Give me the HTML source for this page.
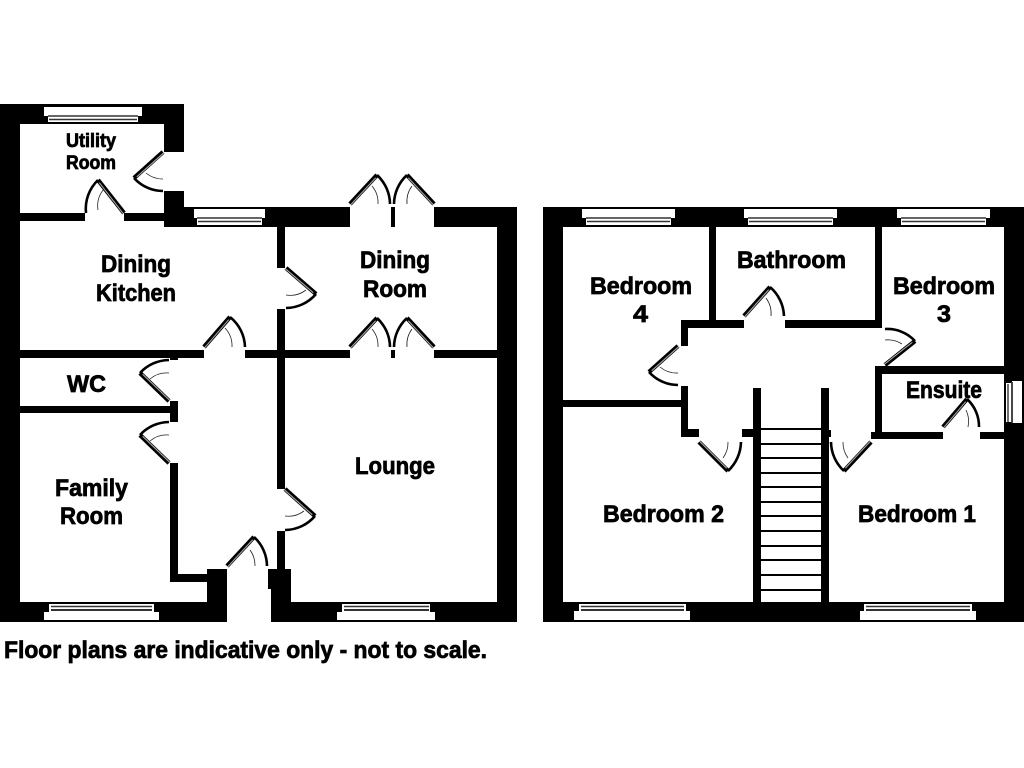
<!DOCTYPE html>
<html>
<head>
<meta charset="utf-8">
<style>
html,body{margin:0;padding:0;background:#fff;width:1024px;height:768px;overflow:hidden}
svg{display:block}
text{font-family:"Liberation Sans",sans-serif;font-weight:bold;fill:#000;stroke:#000;stroke-width:.75}
.a{fill:none;stroke:#000;stroke-width:2.6}
.l{stroke:#000;stroke-width:4.4}
.g{stroke:#a8a8a8;stroke-width:1.1}
.i{fill:none;stroke:#222;stroke-width:.8}
.wl{stroke:#333;stroke-width:1.4}
</style>
</head>
<body>
<svg width="1024" height="768" viewBox="0 0 1024 768" xmlns="http://www.w3.org/2000/svg">
<rect width="1024" height="768" fill="#fff"/>

<!-- Ground floor walls -->
<g fill="#000">
<rect x="0" y="104" width="20" height="518"/>
<rect x="0" y="104" width="184" height="20"/>
<rect x="164" y="104" width="20" height="48"/>
<rect x="164" y="191" width="20" height="36"/>
<rect x="164" y="207" width="186" height="20"/>
<rect x="434" y="207" width="83" height="20"/>
<rect x="497" y="207" width="20" height="415"/>
<rect x="0" y="602" width="227" height="20"/>
<rect x="271" y="602" width="246" height="20"/>
<rect x="20" y="213" width="65" height="8"/>
<rect x="124" y="213" width="40" height="8"/>
<rect x="277" y="227" width="8" height="41"/>
<rect x="277" y="309" width="8" height="180"/>
<rect x="277" y="531" width="8" height="40"/>
<rect x="20" y="350" width="184" height="8"/>
<rect x="245" y="350" width="105" height="8"/>
<rect x="434" y="350" width="63" height="8"/>
<rect x="391" y="207" width="4" height="20"/>
<rect x="391" y="350" width="4" height="8"/>
<rect x="20" y="406" width="150" height="7"/>
<rect x="170" y="401" width="8" height="21"/>
<rect x="170" y="358" width="8" height="2"/>
<rect x="170" y="463" width="8" height="119"/>
<rect x="170" y="574" width="40" height="8"/>
<rect x="207" y="569" width="20" height="53"/>
<rect x="268" y="569" width="23" height="20"/>
<rect x="271" y="569" width="20" height="53"/>

<!-- Upper floor walls -->
<rect x="543" y="207" width="481" height="20"/>
<rect x="543" y="207" width="20" height="415"/>
<rect x="1004" y="207" width="20" height="415"/>
<rect x="543" y="602" width="481" height="20"/>
<rect x="709" y="227" width="7" height="100"/>
<rect x="875" y="227" width="7" height="101"/>
<rect x="681" y="320" width="63" height="8"/>
<rect x="785" y="320" width="97" height="8"/>
<rect x="681" y="320" width="7" height="26"/>
<rect x="681" y="386" width="7" height="51"/>
<rect x="563" y="400" width="118" height="7"/>
<rect x="681" y="429" width="18" height="8"/>
<rect x="742" y="429" width="12" height="8"/>
<rect x="753" y="388" width="8" height="214"/>
<rect x="821" y="388" width="8" height="214"/>
<rect x="829" y="430" width="2" height="7"/>
<rect x="875" y="366" width="129" height="8"/>
<rect x="875" y="366" width="7" height="73"/>
<rect x="871" y="432" width="72" height="7"/>
<rect x="980" y="432" width="24" height="7"/>
<!-- Treads -->
<rect x="761" y="428" width="60" height="2"/>
<rect x="761" y="443" width="60" height="2"/>
<rect x="761" y="457" width="60" height="2"/>
<rect x="761" y="472" width="60" height="2"/>
<rect x="761" y="486" width="60" height="2"/>
<rect x="761" y="501" width="60" height="2"/>
<rect x="761" y="515" width="60" height="2"/>
<rect x="761" y="530" width="60" height="2"/>
<rect x="761" y="545" width="60" height="2"/>
<rect x="761" y="559" width="60" height="2"/>
<rect x="761" y="574" width="60" height="2"/>
<rect x="761" y="589" width="60" height="2"/>
</g>

<!-- Windows (top-edge type) -->
<g fill="#fff">
<path d="M44 107H142V116H138V122H48V116H44Z"/>
<path d="M194 209H265V218H262V225H197V218H194Z"/>
<path d="M582 209H675V218H671V225H586V218H582Z"/>
<path d="M744 209H837V218H833V225H748V218H744Z"/>
<path d="M897 209H990V218H986V225H901V218H897Z"/>
<!-- bottom-edge type -->
<path d="M49 604H154V612H159V620H44V612H49Z"/>
<path d="M342 604H430V612H435V620H337V612H342Z"/>
<path d="M579 604H686V611H690V620H574V611H579Z"/>
<path d="M864 604H972V611H976V620H860V611H864Z"/>
<!-- side window -->
<path d="M1006 383H1012V381H1022V423H1012V422H1006Z"/>
</g>
<g class="wl">
<line x1="48" y1="116" x2="138" y2="116"/><line x1="49" y1="119.500" x2="137" y2="119.500"/>
<line x1="197" y1="218" x2="262" y2="218"/><line x1="198" y1="221.500" x2="261" y2="221.500"/>
<line x1="586" y1="218" x2="671" y2="218"/><line x1="587" y1="221.500" x2="670" y2="221.500"/>
<line x1="748" y1="218" x2="833" y2="218"/><line x1="749" y1="221.500" x2="832" y2="221.500"/>
<line x1="901" y1="218" x2="986" y2="218"/><line x1="902" y1="221.500" x2="985" y2="221.500"/>
<line x1="51" y1="606.500" x2="152" y2="606.500"/><line x1="51" y1="610" x2="152" y2="610" stroke-width="2"/>
<line x1="344" y1="606.500" x2="429" y2="606.500"/><line x1="344" y1="610" x2="429" y2="610" stroke-width="2"/>
<line x1="581" y1="606.500" x2="684" y2="606.500"/><line x1="581" y1="610" x2="684" y2="610" stroke-width="2"/>
<line x1="866" y1="606.500" x2="970" y2="606.500"/><line x1="866" y1="610" x2="970" y2="610" stroke-width="2"/>
<line x1="1008" y1="384" x2="1008" y2="422"/><line x1="1012" y1="382" x2="1012" y2="423" stroke-width="1.800"/>
</g>

<!-- Doors: ground floor -->
<g>
<path class="a" d="M134 178A39 39 0 0 0 163 191"/><line class="l" x1="163" y1="152" x2="134" y2="178"/><line class="g" x1="163" y1="152" x2="136" y2="176" transform="translate(.8,.8)"/><path class="i" d="M146 173A26 26 0 0 0 163 179"/>
<path class="a" d="M98 180A40 40 0 0 0 86 213"/><line class="l" x1="124" y1="213" x2="98" y2="180"/><line class="g" x1="124" y1="213" x2="100" y2="182" transform="translate(-.7,.7)"/><path class="i" d="M104 189A26 26 0 0 0 98 210"/>
<path class="a" d="M230 317A40 40 0 0 1 245 347"/><line class="l" x1="204" y1="347" x2="230" y2="317"/><line class="g" x1="204" y1="347" x2="228" y2="319" transform="translate(.7,.7)"/><path class="i" d="M225 328A26 26 0 0 1 232 347"/>
<path class="a" d="M316 294A40 40 0 0 1 286 308"/><line class="l" x1="286" y1="268" x2="316" y2="294"/><line class="g" x1="286" y1="268" x2="314" y2="292" transform="translate(-.7,.7)"/><path class="i" d="M306 290A26 26 0 0 1 286 295"/>
<path class="a" d="M377 175A40 40 0 0 1 390 204"/><line class="l" x1="350" y1="204" x2="377" y2="175"/><line class="g" x1="350" y1="204" x2="375" y2="177" transform="translate(.7,.7)"/><path class="i" d="M372 186A26 26 0 0 1 378 204"/>
<path class="a" d="M407 175A40 40 0 0 0 394 204"/><line class="l" x1="434" y1="204" x2="407" y2="175"/><line class="g" x1="434" y1="204" x2="409" y2="177" transform="translate(-.7,.7)"/><path class="i" d="M412 186A26 26 0 0 0 407 204"/>
<path class="a" d="M377 318A40 40 0 0 1 390 347"/><line class="l" x1="350" y1="347" x2="377" y2="318"/><line class="g" x1="350" y1="347" x2="375" y2="320" transform="translate(.7,.7)"/><path class="i" d="M372 329A26 26 0 0 1 378 347"/>
<path class="a" d="M407 318A40 40 0 0 0 394 347"/><line class="l" x1="434" y1="347" x2="407" y2="318"/><line class="g" x1="434" y1="347" x2="409" y2="320" transform="translate(-.7,.7)"/><path class="i" d="M412 329A26 26 0 0 0 407 347"/>
<path class="a" d="M140 373A40 40 0 0 1 169 360"/><line class="l" x1="169" y1="401" x2="140" y2="373"/><line class="g" x1="169" y1="401" x2="142" y2="375" transform="translate(.7,-.7)"/><path class="i" d="M150 379A26 26 0 0 1 169 373"/>
<path class="a" d="M140 435A40 40 0 0 1 169 422"/><line class="l" x1="169" y1="463" x2="140" y2="435"/><line class="g" x1="169" y1="463" x2="142" y2="437" transform="translate(.7,-.7)"/><path class="i" d="M150 441A26 26 0 0 1 169 435"/>
<path class="a" d="M315 516A40 40 0 0 1 285 530"/><line class="l" x1="285" y1="489" x2="315" y2="516"/><line class="g" x1="285" y1="489" x2="313" y2="514" transform="translate(-.7,.7)"/><path class="i" d="M304 511A26 26 0 0 1 285 516"/>
<path class="a" d="M254 537A40 40 0 0 1 267 566"/><line class="l" x1="227" y1="566" x2="254" y2="537"/><line class="g" x1="227" y1="566" x2="252" y2="539" transform="translate(.7,.7)"/><path class="i" d="M250 550A26 26 0 0 1 255 566"/>
</g>

<!-- Doors: upper floor -->
<g>
<path class="a" d="M770 287A40 40 0 0 1 784 316"/><line class="l" x1="744" y1="316" x2="770" y2="287"/><line class="g" x1="744" y1="316" x2="768" y2="289" transform="translate(.7,.7)"/><path class="i" d="M766 298A26 26 0 0 1 771 316"/>
<path class="a" d="M649 372A39 39 0 0 0 678 385"/><line class="l" x1="678" y1="346" x2="649" y2="372"/><line class="g" x1="678" y1="346" x2="651" y2="370" transform="translate(.7,.7)"/><path class="i" d="M660 367A26 26 0 0 0 678 373"/>
<path class="a" d="M915 341A38 38 0 0 0 885 329"/><line class="l" x1="885" y1="365" x2="915" y2="341"/><line class="g" x1="885" y1="365" x2="913" y2="343" transform="translate(-.7,-.7)"/><path class="i" d="M902 344A26 26 0 0 0 885 340"/>
<path class="a" d="M967 399A37 37 0 0 1 979 427"/><line class="l" x1="943" y1="427" x2="967" y2="399"/><line class="g" x1="943" y1="427" x2="965" y2="401" transform="translate(.7,.7)"/><path class="i" d="M966 410A26 26 0 0 1 968 427"/>
<path class="a" d="M728 471A41 41 0 0 0 741 442"/><line class="l" x1="699" y1="442" x2="728" y2="471"/><line class="g" x1="699" y1="442" x2="726" y2="469" transform="translate(.7,-.7)"/><path class="i" d="M723 458A26 26 0 0 0 728 442"/>
<path class="a" d="M844 471A40 40 0 0 1 831 442"/><line class="l" x1="871" y1="442" x2="844" y2="471"/><line class="g" x1="871" y1="442" x2="846" y2="469" transform="translate(-.7,-.7)"/><path class="i" d="M848 458A26 26 0 0 1 843 442"/>
</g>

<!-- Labels -->
<g font-size="19">
<text x="66" y="147" textLength="50" lengthAdjust="spacingAndGlyphs">Utility</text>
<text x="66" y="169" textLength="50" lengthAdjust="spacingAndGlyphs">Room</text>
</g>
<g font-size="24">
<text x="101" y="272" textLength="70" lengthAdjust="spacingAndGlyphs">Dining</text>
<text x="96" y="301" textLength="80" lengthAdjust="spacingAndGlyphs">Kitchen</text>
<text x="360" y="268" textLength="70" lengthAdjust="spacingAndGlyphs">Dining</text>
<text x="363" y="297" textLength="64" lengthAdjust="spacingAndGlyphs">Room</text>
<text x="67" y="392" textLength="39" lengthAdjust="spacingAndGlyphs">WC</text>
<text x="55" y="496" textLength="73" lengthAdjust="spacingAndGlyphs">Family</text>
<text x="60" y="524" textLength="63" lengthAdjust="spacingAndGlyphs">Room</text>
<text x="355" y="474" textLength="80" lengthAdjust="spacingAndGlyphs">Lounge</text>
<text x="590" y="294" textLength="102" lengthAdjust="spacingAndGlyphs">Bedroom</text>
<text x="633" y="322" textLength="15" lengthAdjust="spacingAndGlyphs">4</text>
<text x="737" y="268" textLength="109" lengthAdjust="spacingAndGlyphs">Bathroom</text>
<text x="893" y="294" textLength="102" lengthAdjust="spacingAndGlyphs">Bedroom</text>
<text x="937" y="322" textLength="14" lengthAdjust="spacingAndGlyphs">3</text>
<text x="906" y="398" textLength="76" lengthAdjust="spacingAndGlyphs">Ensuite</text>
<text x="603" y="522" textLength="121" lengthAdjust="spacingAndGlyphs">Bedroom 2</text>
<text x="858" y="522" textLength="118" lengthAdjust="spacingAndGlyphs">Bedroom 1</text>
<text x="4" y="658" textLength="483" lengthAdjust="spacingAndGlyphs">Floor plans are indicative only - not to scale.</text>
</g>
</svg>
</body>
</html>
